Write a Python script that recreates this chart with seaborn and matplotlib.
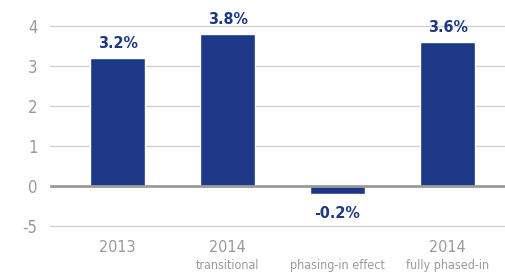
import matplotlib
matplotlib.use("Agg")
import matplotlib.pyplot as plt
import seaborn as sns

categories = ["2013", "2014 transitional", "phasing-in effect", "2014 fully phased-in"]
values = [3.2, 3.8, -0.2, 3.6]
value_labels = ["3.2%", "3.8%", "-0.2%", "3.6%"]
year_labels = ["2013", "2014", "", "2014"]
sub_labels = ["", "transitional", "phasing-in effect", "fully phased-in"]
y_ticks = [-1, 0, 1, 2, 3, 4]
y_tick_labels = ["-5", "0", "1", "2", "3", "4"]

navy = "#1d3887"
grey = "#9a9a9a"

sns.set_style("white")
plt.rcParams["font.family"] = ["DejaVu Sans"]
plt.rcParams["font.stretch"] = "condensed"

fig = plt.figure(figsize=(5.06, 2.74), dpi=100)
ax = fig.add_axes([0.099, 0.146, 0.901, 0.832])

for t in y_ticks:
    if t == 0:
        continue
    ax.axhline(t, color="#d2d2d2", lw=1, zorder=0)
ax.axhline(0, color=grey, lw=2, zorder=3)

sns.barplot(x=categories, y=values, color=navy, width=0.5, saturation=1, ax=ax, zorder=2)

for i, (v, lab) in enumerate(zip(values, value_labels)):
    if v >= 0:
        ax.text(i, v + 0.17, lab, ha="center", va="bottom", color=navy,
                fontsize=11.5, fontweight="bold")
    else:
        ax.text(i, v - 0.3, lab, ha="center", va="top", color=navy,
                fontsize=11.5, fontweight="bold")

ax.set_xlim(-0.614, 3.53)
ax.set_ylim(-1.2, 4.5)
ax.set_yticks(y_ticks)
ax.set_yticklabels(y_tick_labels, color=grey, fontsize=12)
ax.set_xticks(range(len(categories)))
ax.set_xticklabels(year_labels, color=grey, fontsize=11.5)
ax.tick_params(axis="y", length=0, pad=9)
ax.tick_params(axis="x", length=0, pad=4)
for i, s in enumerate(sub_labels):
    ax.annotate(s, xy=(i, 0), xycoords=("data", "axes fraction"),
                xytext=(0, -23), textcoords="offset points",
                ha="center", va="center", color=grey, fontsize=9)

ax.set_xlabel("")
ax.set_ylabel("")
for sp in ax.spines.values():
    sp.set_visible(False)

fig.savefig("out.png", dpi=100)
